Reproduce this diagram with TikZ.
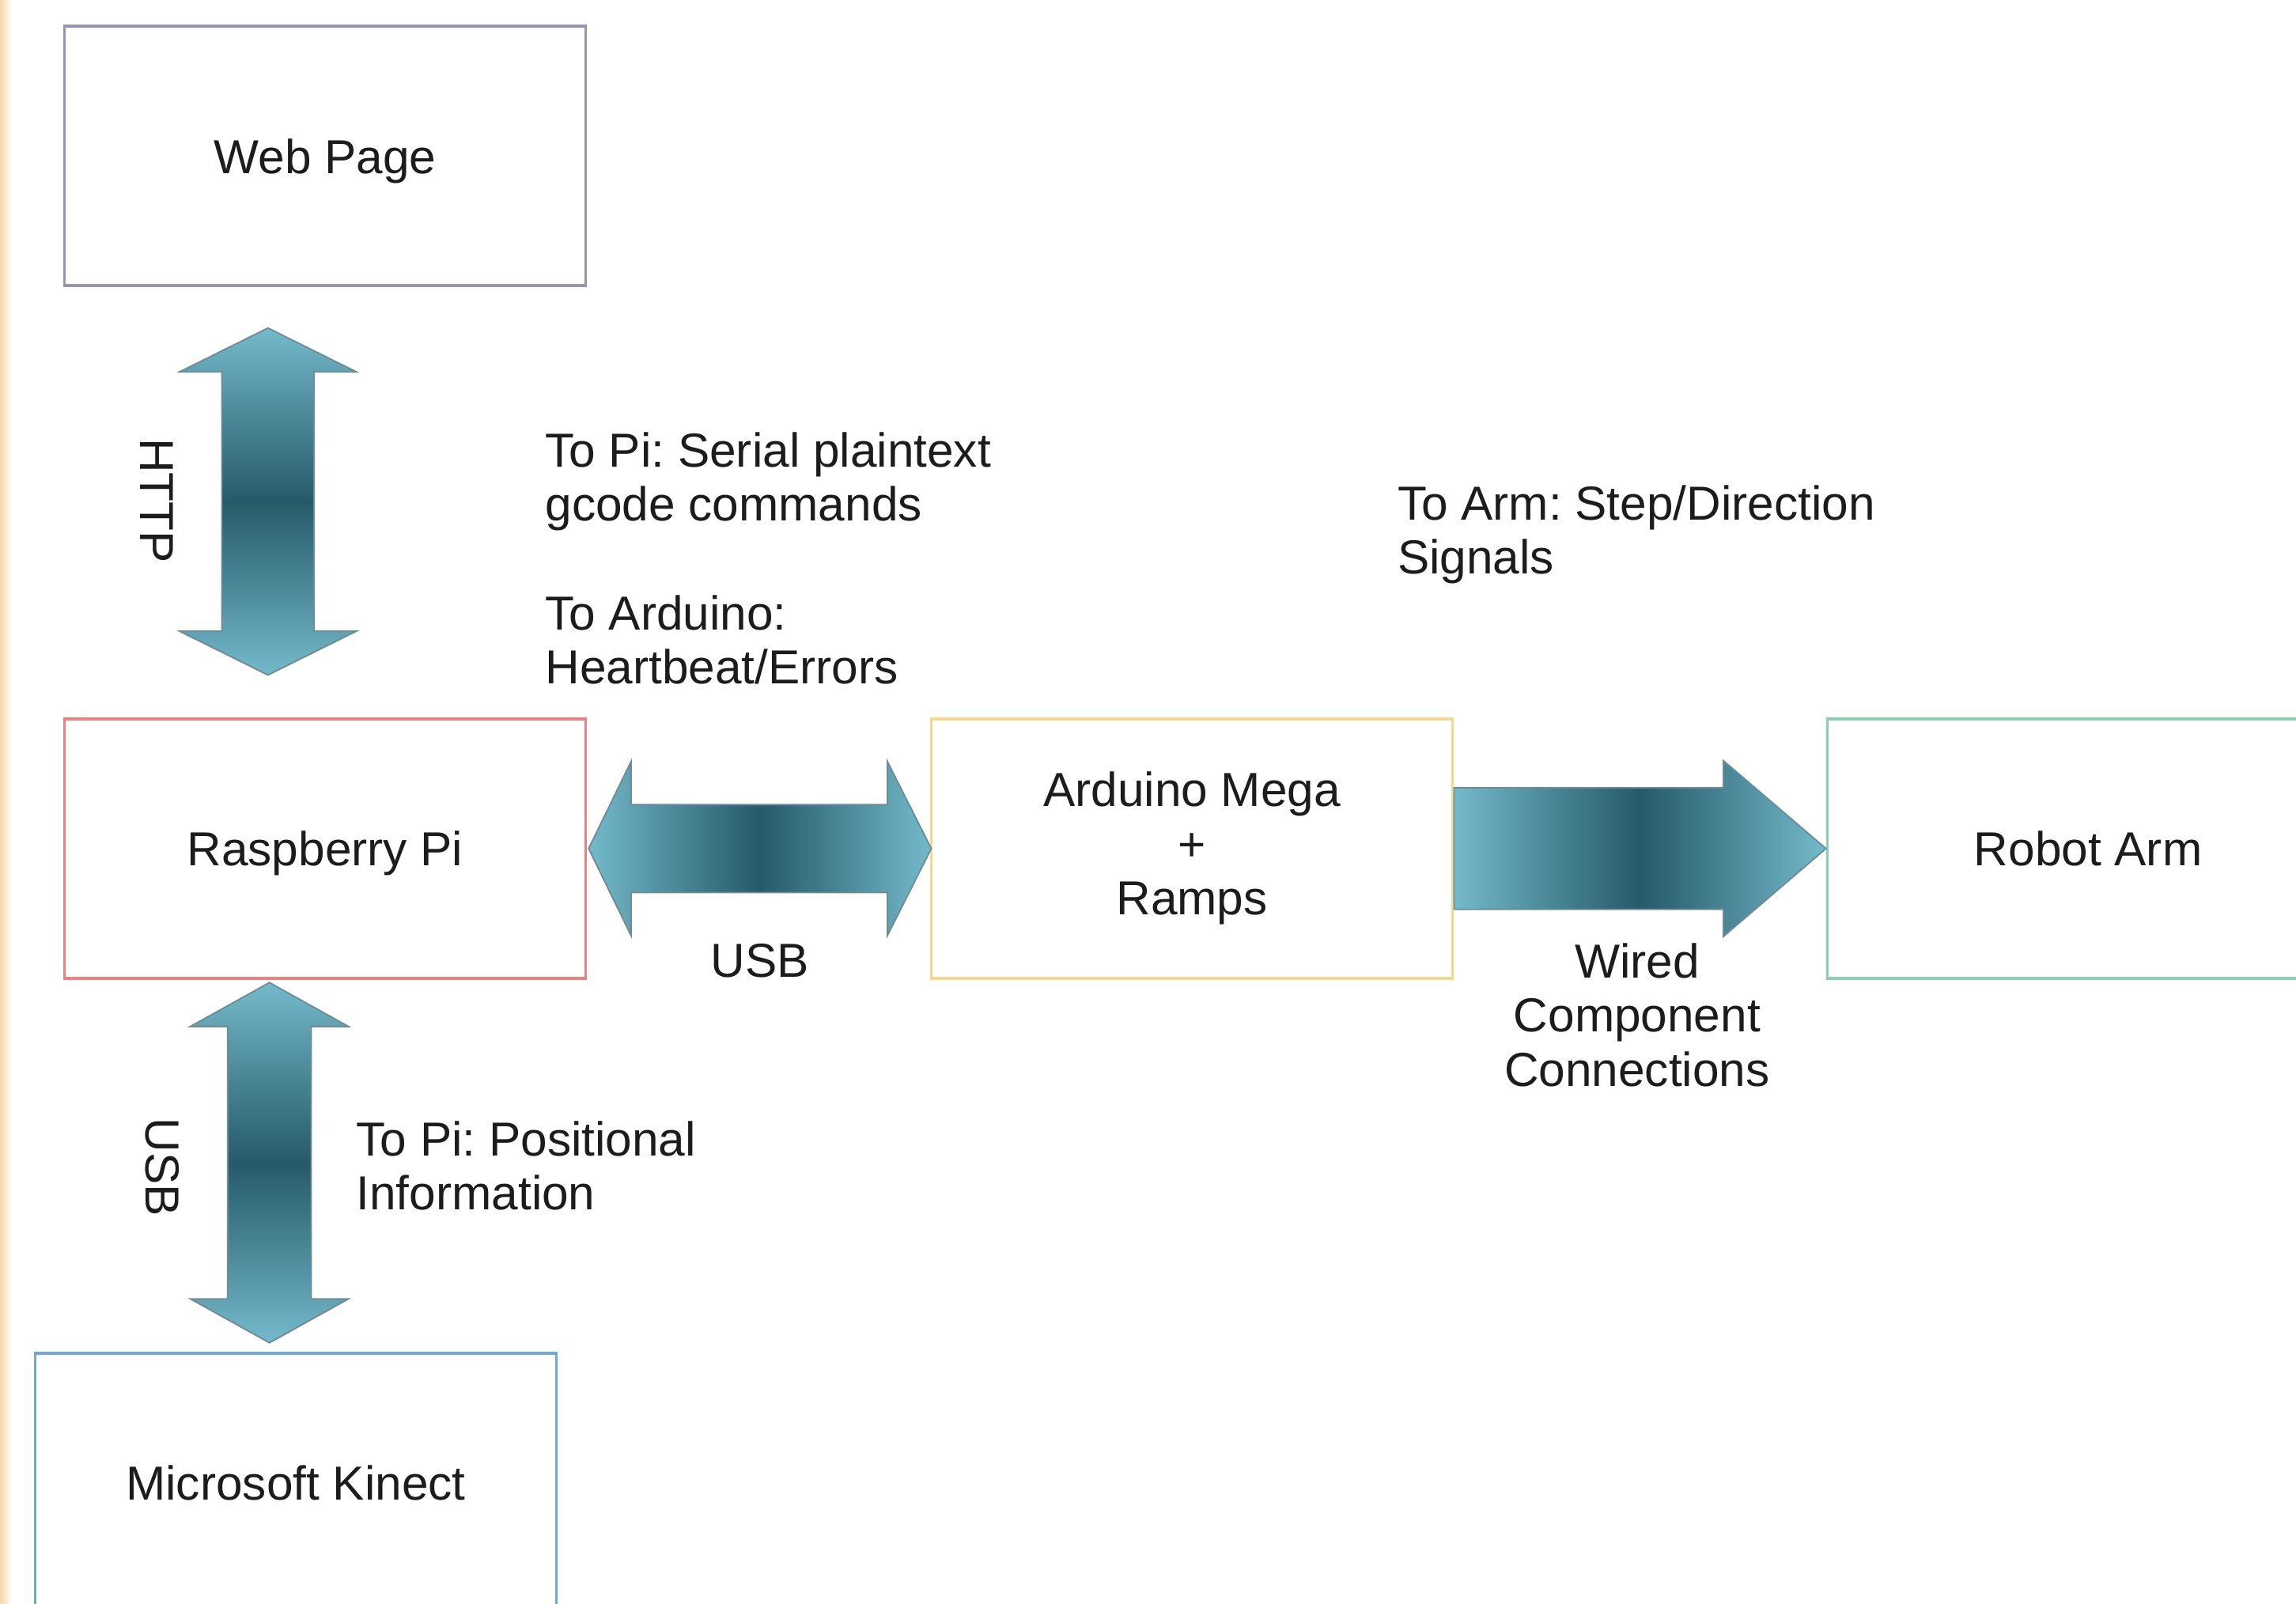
\documentclass[tikz,border=0pt]{standalone}
\usepackage{fontspec}
\setmainfont{Liberation Sans}
\usetikzlibrary{calc}
\frenchspacing
\definecolor{txt}{HTML}{1C1C1C}
\definecolor{cweb}{HTML}{9A94B4}
\definecolor{cpi}{HTML}{EE8080}
\definecolor{cardu}{HTML}{F6D88C}
\definecolor{crobot}{HTML}{88D0B0}
\definecolor{ckin}{HTML}{6DA8D6}
\definecolor{arlight}{HTML}{74BACB}
\definecolor{armid}{HTML}{4A8797}
\definecolor{ardark}{HTML}{265A69}
\definecolor{arrowedge}{HTML}{6E8C96}
\definecolor{edgeorange}{HTML}{F6D6AA}
\pgfdeclareverticalshading{vfatsh}{100bp}{color(0bp)=(arlight); color(25bp)=(arlight); color(38bp)=(armid); color(50bp)=(ardark); color(62bp)=(armid); color(75bp)=(arlight); color(100bp)=(arlight)}
\pgfdeclarehorizontalshading{hfatsh}{100bp}{color(0bp)=(arlight); color(25bp)=(arlight); color(38bp)=(armid); color(50bp)=(ardark); color(62bp)=(armid); color(75bp)=(arlight); color(100bp)=(arlight)}
\begin{document}
\begin{tikzpicture}[x=0.5pt,y=-0.5pt,
  box/.style={draw, line width=1pt, fill=white, minimum width=178pt, minimum height=88.5pt,
    inner sep=0pt, font=\fontsize{16.3}{18.5}\selectfont, text=txt, align=center},
  onebox/.style={box, text depth=0pt},
  lbl/.style={inner sep=0pt, font=\fontsize{16.3}{18.5}\selectfont, text=txt, align=left},
  fat/.style={draw=arrowedge, line width=0.5pt},
  vfat/.style={fat, shading=vfatsh},
  hfat/.style={fat, shading=hfatsh}]
\clip (0,0) rectangle (1568,1095);
\fill[white] (0,0) rectangle (1568,1095);
\shade[left color=edgeorange, right color=white] (0,0) rectangle (8,1095);

% boxes
\node[onebox, draw=cweb] (web) at (222,106.5) {Web Page};
\node[onebox, draw=cpi] (pi) at (222,579.5) {Raspberry Pi};
\node[box, draw=cardu] (ardu) at (814,579.5) {Arduino Mega\\+\\Ramps};
\node[onebox, draw=crobot] (robot) at (1426,579.5) {Robot Arm};
\node[onebox, draw=ckin] (kin) at (202,1012.5) {Microsoft Kinect};

% arrow end points
\coordinate (httpT) at ($(web.south)+(-39,28)$);
\coordinate (httpB) at ($(pi.north)+(-39,-29)$);
\coordinate (kinT) at ($(pi.south)+(-38,2)$);
\coordinate (kinB) at ($(kin.north)+(-18,-6)$);
\coordinate (usbL) at ($(pi.east)+(1,0)$);
\coordinate (usbR) at ($(ardu.west)+(1,0)$);
\coordinate (armL) at (ardu.east);
\coordinate (armR) at (robot.west);

% HTTP double arrow (vertical)
\path[vfat] (httpT) -- ($(httpT)+(60.5,30)$) -- ($(httpT)+(31.5,30)$)
  -- ($(httpB)+(31.5,-30)$) -- ($(httpB)+(60.5,-30)$) -- (httpB)
  -- ($(httpB)+(-60.5,-30)$) -- ($(httpB)+(-31.5,-30)$)
  -- ($(httpT)+(-31.5,30)$) -- ($(httpT)+(-60.5,30)$) -- cycle;

% Kinect double arrow (vertical)
\path[vfat] (kinT) -- ($(kinT)+(54,30)$) -- ($(kinT)+(28.5,30)$)
  -- ($(kinB)+(28.5,-30)$) -- ($(kinB)+(54,-30)$) -- (kinB)
  -- ($(kinB)+(-54,-30)$) -- ($(kinB)+(-28.5,-30)$)
  -- ($(kinT)+(-28.5,30)$) -- ($(kinT)+(-54,30)$) -- cycle;

% USB double arrow (horizontal)
\path[hfat] (usbL) -- ($(usbL)+(29,-59.5)$) -- ($(usbL)+(29,-30)$)
  -- ($(usbR)+(-30,-30)$) -- ($(usbR)+(-30,-59.5)$) -- (usbR)
  -- ($(usbR)+(-30,59.5)$) -- ($(usbR)+(-30,30)$)
  -- ($(usbL)+(29,30)$) -- ($(usbL)+(29,59.5)$) -- cycle;

% Arduino -> Robot single arrow
\path[hfat] ($(armL)+(0,-41.5)$) -- ($(armR)+(-70,-41.5)$) -- ($(armR)+(-70,-60)$)
  -- (armR) -- ($(armR)+(-70,60)$) -- ($(armR)+(-70,41.5)$) -- ($(armL)+(0,41.5)$) -- cycle;

% labels
\node[lbl, rotate=-90] (lhttp) at (107,342) {HTTP};
\node[lbl, rotate=-90] (lusbv) at (111,797) {USB};
\node[lbl, anchor=center] (lusbh) at (519,656) {USB};
\node[lbl, anchor=west] (lser) at (372,329) {To Pi: Serial plaintext\\gcode commands};
\node[lbl, anchor=west] (lhb) at (372,437) {To Arduino:\\Heartbeat/Errors};
\node[lbl, anchor=west] (lstep) at (954,365) {To Arm: Step/Direction\\Signals};
\node[lbl, align=center] (lwire) at (1118,693) {Wired\\Component\\Connections};
\node[lbl, anchor=west] (lpos) at (243,796) {To Pi: Positional\\Information};
\end{tikzpicture}
\end{document}
